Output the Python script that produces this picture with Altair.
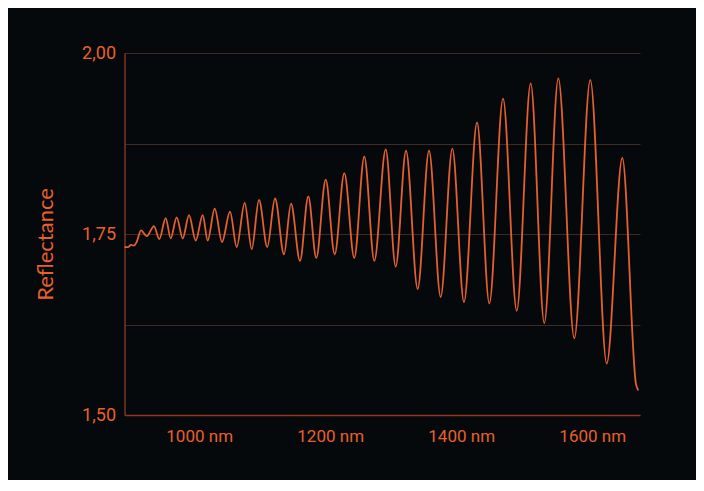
import altair as alt
import pandas as pd

# Wavelength (nm) and reflectance (peaks, troughs, a few shoulder points)
wavelength = [886.0, 891.8, 895.9, 900.5, 904.6, 911.2, 919.9, 931.0, 939.1, 948.9,
              956.5, 965.7, 974.9, 984.5, 994.7, 1005.4, 1013.0, 1023.7, 1034.9, 1047.1,
              1057.3, 1069.5, 1080.2, 1091.3, 1104.0, 1115.8, 1129.5, 1140.2, 1153.9, 1166.6,
              1178.8, 1193.2, 1206.9, 1221.6, 1236.8, 1252.1, 1267.4, 1284.8, 1300.0, 1315.8,
              1333.6, 1350.9, 1368.7, 1386.5, 1404.3, 1424.2, 1443.0, 1463.9, 1484.8, 1506.1,
              1526.9, 1548.3, 1572.7, 1597.1, 1622.2, 1646.0, 1667.0, 1670.4]
reflectance = [1.732, 1.732, 1.735, 1.734, 1.739, 1.755, 1.747, 1.761, 1.743, 1.772,
               1.744, 1.773, 1.744, 1.776, 1.741, 1.776, 1.741, 1.785, 1.739, 1.781,
               1.732, 1.793, 1.729, 1.797, 1.732, 1.799, 1.722, 1.792, 1.713, 1.802,
               1.717, 1.825, 1.722, 1.834, 1.717, 1.857, 1.713, 1.867, 1.705, 1.865,
               1.674, 1.865, 1.663, 1.868, 1.656, 1.904, 1.654, 1.937, 1.644, 1.958,
               1.627, 1.965, 1.606, 1.963, 1.571, 1.855, 1.542, 1.534]

x_ticks = [1000, 1200, 1400, 1600]
y_ticks = [1.5, 1.625, 1.75, 1.875, 2.0]

df = pd.DataFrame({"wavelength": wavelength, "reflectance": reflectance})

ORANGE = "#e8602c"
LABEL_FONT = "Roboto"

chart = (
    alt.Chart(df)
    .mark_line(color="#e4602f", strokeWidth=1.8, interpolate="monotone")
    .encode(
        x=alt.X(
            "wavelength:Q",
            scale=alt.Scale(domain=[886, 1673], nice=False, zero=False),
            axis=alt.Axis(
                values=x_ticks,
                labelExpr="datum.value + ' nm'",
                title=None,
                grid=False,
                ticks=False,
                domainColor="#8a3a1e",
                domainWidth=1.5,
                labelColor=ORANGE,
                labelFont=LABEL_FONT,
                labelFontSize=17,
                labelPadding=13,
            ),
        ),
        y=alt.Y(
            "reflectance:Q",
            scale=alt.Scale(domain=[1.5, 2.0], nice=False, zero=False),
            axis=alt.Axis(
                values=y_ticks,
                labelExpr="(datum.value == 1.625 || datum.value == 1.875) ? '' : replace(format(datum.value, '.2f'), '.', ',')",
                title="Reflectance",
                titleColor=ORANGE,
                titleFont="Lato",
                titleFontSize=22,
                titleFontWeight="normal",
                titlePadding=24,
                titleY=191,
                grid=True,
                gridColor="#3e2a22",
                gridWidth=1.2,
                ticks=False,
                domainColor="#7a3620",
                domainWidth=1.5,
                labelColor=ORANGE,
                labelFont=LABEL_FONT,
                labelFontSize=18,
                labelPadding=9,
                labelBaseline="middle",
            ),
        ),
    )
    .properties(
        width=515.5,
        height=362,
        autosize=alt.AutoSizeParams(type="none"),
        padding={"left": 116.5, "top": 45, "right": 56, "bottom": 65},
        background="#06090c",
    )
    .configure_view(stroke=None)
)

chart.save("out.html", embed_options={"renderer": "svg", "actions": False})
